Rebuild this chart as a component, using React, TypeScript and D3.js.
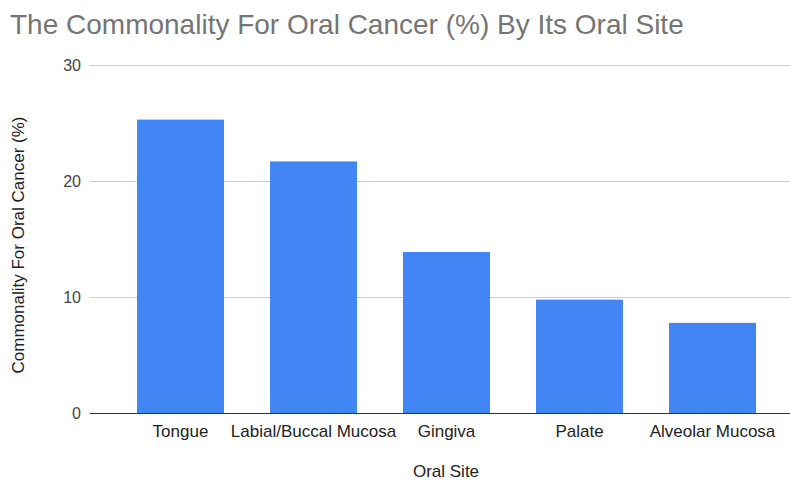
import { useEffect, useRef } from "react";
import * as d3 from "d3";

const sites = ["Tongue", "Labial/Buccal Mucosa", "Gingiva", "Palate", "Alveolar Mucosa"];
const commonality = [25.3, 21.7, 13.9, 9.8, 7.8];
const yTicks = [0, 10, 20, 30];

const W = 790;
const H = 480;
const FONT = "Arial, 'Liberation Sans', sans-serif";

export default function App() {
  const ref = useRef<SVGSVGElement | null>(null);

  useEffect(() => {
    if (!ref.current) return;
    const svg = d3.select(ref.current);
    svg.selectAll("*").remove();

    const x = d3.scaleBand<string>().domain(sites).range([114, 779]).paddingInner(0.346).paddingOuter(0.173);
    const y = d3.scaleLinear().domain([0, 30]).range([413.5, 65]);

    svg.append("rect").attr("width", W).attr("height", H).attr("fill", "#fff");

    // title
    svg
      .append("text")
      .attr("x", 10)
      .attr("y", 34)
      .attr("fill", "#757575")
      .style("font-family", FONT)
      .style("font-size", "28px")
      .text("The Commonality For Oral Cancer (%) By Its Oral Site");

    // gridlines
    svg
      .append("g")
      .selectAll("line")
      .data(yTicks.filter((t) => t > 0))
      .enter()
      .append("line")
      .attr("x1", 90)
      .attr("x2", 790)
      .attr("y1", (d) => Math.round(y(d)) + 0.5)
      .attr("y2", (d) => Math.round(y(d)) + 0.5)
      .attr("stroke", "#cccccc")
      .attr("stroke-width", 1);

    // tick labels
    svg
      .append("g")
      .selectAll("text")
      .data(yTicks)
      .enter()
      .append("text")
      .attr("x", 81)
      .attr("y", (d) => y(d))
      .attr("dy", "0.35em")
      .attr("text-anchor", "end")
      .attr("fill", "#444")
      .style("font-family", FONT)
      .style("font-size", "16px")
      .text((d) => d);

    // bars
    svg
      .append("g")
      .selectAll("rect")
      .data(sites)
      .enter()
      .append("rect")
      .attr("x", (d) => x(d)!)
      .attr("width", x.bandwidth())
      .attr("y", (_, i) => y(commonality[i]))
      .attr("height", (_, i) => y(0) - y(commonality[i]))
      .attr("fill", "#4285f4");

    // baseline
    svg
      .append("line")
      .attr("x1", 90)
      .attr("x2", 790)
      .attr("y1", y(0))
      .attr("y2", y(0))
      .attr("stroke", "#333")
      .attr("stroke-width", 1);

    // category labels
    svg
      .append("g")
      .selectAll("text")
      .data(sites)
      .enter()
      .append("text")
      .attr("x", (d) => x(d)! + x.bandwidth() / 2)
      .attr("y", 437)
      .attr("text-anchor", "middle")
      .attr("fill", "#222")
      .style("font-family", FONT)
      .style("font-size", "17px")
      .text((d) => d);

    // axis titles
    svg
      .append("text")
      .attr("x", 446)
      .attr("y", 477)
      .attr("text-anchor", "middle")
      .attr("fill", "#222")
      .style("font-family", FONT)
      .style("font-size", "17px")
      .text("Oral Site");

    svg
      .append("text")
      .attr("transform", "translate(24,245) rotate(-90)")
      .attr("text-anchor", "middle")
      .attr("fill", "#222")
      .style("font-family", FONT)
      .style("font-size", "17px")
      .text("Commonality For Oral Cancer (%)");
  }, []);

  return (
    <div style={{ position: "absolute", left: 0, top: 0 }}>
      <svg ref={ref} width={W} height={H} style={{ display: "block" }} />
    </div>
  );
}
